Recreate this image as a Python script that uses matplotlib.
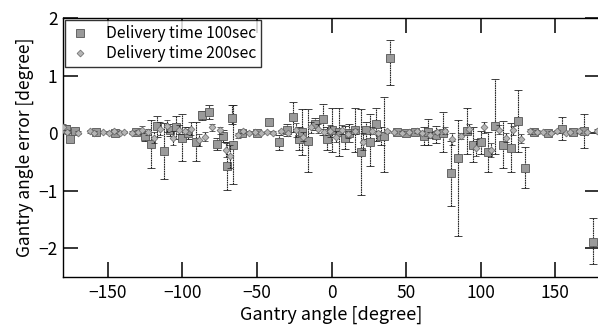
import numpy as np
import matplotlib
matplotlib.use("Agg")
import matplotlib.pyplot as plt
from matplotlib.lines import Line2D

plt.rcParams['font.family'] = ['Noto Sans CJK JP', 'DejaVu Sans']

# Delivery time 100 sec: angle, error, lower/upper error bar
angle_100 = [-178, -175, -172, -158, -145, -131, -125, -121, -117, -112,
             -108, -104, -100, -96, -91, -87, -82, -77, -73, -70,
             -67, -66, -60, -50, -42, -35, -30, -26, -22, -20,
             -15.5, -11, -6, -3, 0, 5, 9, 12, 15.5, 19.5,
             23, 25.6, 29.6, 33, 35, 39, 44, 50, 56, 62,
             65, 70, 74.6, 80, 85, 90.6, 95, 100, 105, 109.6,
             115, 120, 125, 130, 136, 145, 154.5, 162, 169.5, 175.5]
err_100 = [0.08, -0.10, 0.03, 0.02, 0.01, 0.02, -0.05, -0.19, 0.12, -0.31,
           0.05, 0.10, -0.08, 0.00, -0.15, 0.31, 0.37, -0.19, -0.05, -0.57,
           0.26, -0.20, 0.00, 0.01, 0.19, -0.16, 0.05, 0.28, -0.10, 0.02,
           -0.13, 0.16, 0.24, -0.10, 0.05, 0.02, -0.08, 0.00, 0.05, -0.33,
           0.05, -0.16, 0.15, -0.05, -0.05, 1.31, 0.02, 0.01, 0.02, -0.05,
           0.02, -0.03, 0.00, -0.70, -0.44, 0.04, -0.20, -0.16, -0.33, 0.13,
           -0.20, -0.25, 0.21, -0.60, 0.02, 0.00, 0.08, 0.02, 0.04, -1.90]
lo_100 = [0.06, 0.05, 0.04, 0.03, 0.03, 0.04, 0.08, 0.42, 0.18, 0.49,
          0.10, 0.20, 0.41, 0.10, 0.34, 0.08, 0.12, 0.10, 0.10, 0.42,
          0.10, 0.69, 0.03, 0.03, 0.05, 0.13, 0.10, 0.26, 0.20, 0.40,
          0.55, 0.10, 0.27, 0.20, 0.38, 0.41, 0.20, 0.15, 0.38, 0.75,
          0.15, 0.42, 0.28, 0.15, 0.63, 0.47, 0.03, 0.03, 0.03, 0.15,
          0.22, 0.15, 0.33, 0.57, 1.34, 0.40, 0.30, 0.20, 0.35, 0.50,
          0.41, 0.43, 0.54, 0.36, 0.05, 0.04, 0.20, 0.05, 0.29, 0.37]
hi_100 = [0.06, 0.05, 0.04, 0.03, 0.03, 0.04, 0.08, 0.42, 0.18, 0.49,
          0.10, 0.20, 0.41, 0.10, 0.34, 0.08, 0.12, 0.10, 0.10, 0.42,
          0.23, 0.69, 0.03, 0.03, 0.05, 0.13, 0.10, 0.26, 0.20, 0.40,
          0.55, 0.10, 0.27, 0.20, 0.38, 0.41, 0.20, 0.15, 0.38, 0.75,
          0.15, 0.49, 0.28, 0.15, 0.68, 0.31, 0.03, 0.03, 0.03, 0.15,
          0.22, 0.15, 0.36, 0.57, 0.67, 0.40, 0.30, 0.20, 0.35, 0.81,
          0.41, 0.43, 0.54, 0.36, 0.05, 0.04, 0.20, 0.05, 0.29, 0.43]

# Delivery time 200 sec
angle_200 = [-180, -177, -170, -162, -159, -153, -149, -146, -142, -139,
             -134, -130, -127, -123, -119, -115, -110, -106, -102, -98,
             -94, -89, -85, -80, -75, -71, -68, -63, -59, -55,
             -51, -47, -43, -39, -34, -29, -24, -19, -14, -9,
             -5, -1, 3, 7, 11, 16, 21, 27, 31, 37,
             42, 47, 52, 57, 61, 66, 71, 76, 81, 87,
             92, 97, 102, 107, 112, 117, 122, 127, 133, 138,
             142, 147, 151, 157, 160, 166, 171, 178]
err_200 = [0.10, 0.02, 0.01, 0.03, 0.01, 0.02, 0.01, 0.03, 0.01, 0.02,
           0.01, 0.02, 0.06, 0.02, -0.08, 0.08, 0.12, -0.08, 0.06, 0.04,
           0.08, -0.12, -0.06, 0.10, 0.05, -0.30, -0.40, -0.04, 0.03, 0.01,
           0.02, 0.00, 0.02, 0.01, 0.03, 0.00, 0.05, -0.06, 0.10, 0.08,
           0.02, 0.04, -0.06, 0.06, -0.02, 0.03, -0.15, 0.04, 0.00, 0.03,
           0.02, 0.01, 0.02, 0.03, 0.01, -0.03, 0.02, 0.04, -0.10, -0.05,
           0.08, -0.25, 0.10, -0.30, 0.06, -0.08, 0.05, -0.10, 0.03, 0.02,
           0.02, 0.01, 0.03, 0.00, 0.02, 0.03, 0.02, 0.04]
e_200 = [0.05, 0.03, 0.02, 0.03, 0.02, 0.02, 0.02, 0.03, 0.02, 0.02,
         0.02, 0.03, 0.06, 0.05, 0.10, 0.12, 0.10, 0.12, 0.08, 0.06,
         0.12, 0.10, 0.08, 0.06, 0.06, 0.12, 0.20, 0.05, 0.03, 0.02,
         0.02, 0.02, 0.02, 0.02, 0.03, 0.02, 0.12, 0.08, 0.10, 0.08,
         0.05, 0.10, 0.10, 0.08, 0.06, 0.05, 0.15, 0.06, 0.03, 0.03,
         0.02, 0.02, 0.02, 0.02, 0.02, 0.05, 0.04, 0.06, 0.10, 0.06,
         0.08, 0.15, 0.10, 0.12, 0.08, 0.08, 0.08, 0.08, 0.04, 0.03,
         0.02, 0.02, 0.03, 0.02, 0.02, 0.03, 0.02, 0.04]

fig = plt.figure(figsize=(5.98, 3.27), dpi=100)
ax = fig.add_axes([63 / 598, 50 / 327, 537 / 598, 259 / 327])

style_100 = dict(marker='s', ms=5.5, mfc='#9a9a9a', mec='#555555', mew=0.6)
style_200 = dict(marker='D', ms=3.5, mfc='#b5b5b5', mec='#666666', mew=0.5)

eb1 = ax.errorbar(angle_100, err_100, yerr=[lo_100, hi_100], ls='none',
                  ecolor='#222222', elinewidth=0.8, capsize=3, capthick=0.8,
                  zorder=3, **style_100)
eb2 = ax.errorbar(angle_200, err_200, yerr=e_200, ls='none',
                  ecolor='#222222', elinewidth=0.8, capsize=2.5, capthick=0.8,
                  zorder=4, **style_200)
for eb in (eb1, eb2):
    for lc in eb[2]:
        lc.set_linestyle((0, (1.5, 0.6)))

ax.set_xlim(-180, 180)
ax.set_ylim(-2.5, 2)
ax.set_xticks([-150, -100, -50, 0, 50, 100, 150])
ax.set_yticks([-2, -1, 0, 1, 2])
ax.tick_params(direction='in', length=11, width=1.1, top=True, right=True,
               labelsize=12.5)
ax.tick_params(axis='x', pad=5)
ax.tick_params(axis='y', pad=4)
for sp in ax.spines.values():
    sp.set_linewidth(1.0)

ax.set_xlabel('Gantry angle [degree]', fontsize=13)
ax.xaxis.set_label_coords(0.5, -0.11)
ax.set_ylabel('Gantry angle error [degree]', fontsize=12.5, labelpad=3)

# legend shows markers only
handles = [Line2D([], [], ls='none', **style_100),
           Line2D([], [], ls='none', **style_200)]
leg = ax.legend(handles, ['Delivery time 100sec', 'Delivery time 200sec'],
                loc='upper left', fontsize=11.3, frameon=True, fancybox=False,
                edgecolor='black', borderaxespad=0.15, handlelength=1.3,
                handletextpad=1.0, borderpad=0.3, labelspacing=0.2)
leg.get_frame().set_linewidth(1.0)

fig.savefig('out.png', dpi=100)
